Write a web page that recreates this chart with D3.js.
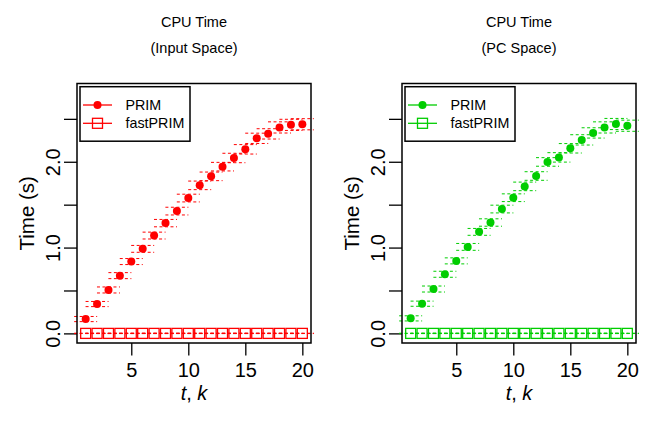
<!DOCTYPE html>
<html>
<head>
<meta charset="utf-8">
<script src="https://cdn.jsdelivr.net/npm/d3@7"></script>
<style>
  body { margin: 0; background: #fff; }
  svg { font-family: "Liberation Sans", Arial, sans-serif; }
</style>
</head>
<body>
<div id="chart"></div>
<script>
const width = 664;
const height = 421;

// t, k values
const steps = d3.range(1, 21);
const yTicks = [0, 0.5, 1.0, 1.5, 2.0, 2.5];
const yLabels = ["0.0", "", "1.0", "", "2.0", ""];
const xTicks = [5, 10, 15, 20];

// Input space
const primInput = [0.167, 0.342, 0.506, 0.673, 0.837, 0.985, 1.14, 1.285, 1.425, 1.577,
                   1.725, 1.83, 1.943, 2.044, 2.145, 2.273, 2.325, 2.40, 2.43, 2.437];
const primInputErr = [0.03, 0.03, 0.035, 0.035, 0.035, 0.04, 0.04, 0.043, 0.045, 0.045,
                      0.05, 0.05, 0.05, 0.055, 0.055, 0.06, 0.06, 0.065, 0.065, 0.065];
const fastInput = [0, 0, 0, 0, 0, 0, 0, 0, 0, 0, 0, 0, 0, 0, 0, 0, 0, 0, 0, 0];

// PC space
const primPC = [0.175, 0.346, 0.517, 0.689, 0.845, 1.008, 1.183, 1.292, 1.449, 1.581,
                1.713, 1.834, 1.998, 2.051, 2.157, 2.255, 2.336, 2.40, 2.44, 2.42];
const primPCErr = [0.03, 0.03, 0.035, 0.035, 0.035, 0.04, 0.04, 0.043, 0.045, 0.045,
                   0.05, 0.05, 0.05, 0.055, 0.055, 0.06, 0.06, 0.065, 0.065, 0.065];
const fastPC = [0, 0, 0, 0, 0, 0, 0, 0, 0, 0, 0, 0, 0, 0, 0, 0, 0, 0, 0, 0];

const svg = d3.select("#chart")
    .append("svg")
    .attr("width", width)
    .attr("height", height);

// R style 4% range expansion
function expand(lo, hi) {
    const p = (hi - lo) * 0.04;
    return [lo - p, hi + p];
}

function drawPanel(left, subtitle, color, prim, err, fast) {
    const box = { x0: left, x1: left + 234, y0: 83.5, y1: 343 };
    const x = d3.scaleLinear().domain(expand(1, 20)).range([box.x0, box.x1]);
    const y = d3.scaleLinear().domain(expand(0, 2.8)).range([box.y1, box.y0]);
    const cx = (box.x0 + box.x1) / 2;
    const g = svg.append("g");

    // titles
    g.append("text").attr("x", cx).attr("y", 27.3)
        .attr("text-anchor", "middle").style("font-size", "14.5px").text("CPU Time");
    g.append("text").attr("x", cx).attr("y", 52.8)
        .attr("text-anchor", "middle").style("font-size", "14.5px").text(subtitle);

    // x axis
    const xAxis = g.append("g").attr("transform", `translate(0,${box.y1})`)
        .call(d3.axisBottom(x).tickValues(xTicks).tickSize(12.5).tickPadding(6).tickFormat(d3.format("d")));
    xAxis.select(".domain").remove();
    xAxis.selectAll("line").attr("stroke", "#000").attr("stroke-width", 1.3);
    xAxis.selectAll("text").style("font-size", "20px").style("font-family", "Liberation Sans, Arial, sans-serif")
        .attr("dy", "0.75em");

    // y axis
    const yAxis = g.append("g").attr("transform", `translate(${box.x0},0)`)
        .call(d3.axisLeft(y).tickValues(yTicks).tickSize(13).tickFormat((d, i) => yLabels[i]));
    yAxis.select(".domain").remove();
    yAxis.selectAll("line").attr("stroke", "#000").attr("stroke-width", 1.3);
    yAxis.selectAll("text")
        .style("font-size", "20px").style("font-family", "Liberation Sans, Arial, sans-serif")
        .attr("text-anchor", "middle")
        .attr("x", null).attr("dy", null)
        .attr("transform", "translate(-17.5,0) rotate(-90)");

    // axis titles
    const xl = g.append("text").attr("x", cx).attr("y", 399.5)
        .attr("text-anchor", "middle").style("font-size", "20px");
    xl.append("tspan").style("font-style", "italic").text("t");
    xl.append("tspan").text(", ");
    xl.append("tspan").style("font-style", "italic").text("k");

    g.append("text")
        .attr("transform", `translate(${box.x0 - 43},${(box.y0 + box.y1) / 2}) rotate(-90)`)
        .attr("text-anchor", "middle").style("font-size", "20.5px").text("Time (s)");

    // dashed error caps
    const capHalf = 11.5;
    const caps = [];
    steps.forEach((t, i) => {
        caps.push({ t: t, v: prim[i] + err[i] });
        caps.push({ t: t, v: prim[i] - err[i] });
        caps.push({ t: t, v: fast[i] + 0.002 });
        caps.push({ t: t, v: fast[i] - 0.002 });
    });
    g.append("g").selectAll("line").data(caps).enter().append("line")
        .attr("x1", d => x(d.t) - capHalf).attr("x2", d => x(d.t) + capHalf)
        .attr("y1", d => y(d.v)).attr("y2", d => y(d.v))
        .attr("stroke", color).attr("stroke-width", 1)
        .attr("stroke-dasharray", "3,2.5");

    // PRIM points
    g.append("g").selectAll("circle").data(prim).enter().append("circle")
        .attr("cx", (d, i) => x(steps[i])).attr("cy", d => y(d))
        .attr("r", 4).attr("fill", color);

    // fastPRIM squares
    g.append("g").selectAll("rect").data(fast).enter().append("rect")
        .attr("x", (d, i) => x(steps[i]) - 5).attr("y", d => y(d) - 5)
        .attr("width", 10).attr("height", 10)
        .attr("fill", "none").attr("stroke", color).attr("stroke-width", 1.3);

    // plot box
    g.append("rect")
        .attr("x", box.x0).attr("y", box.y0)
        .attr("width", box.x1 - box.x0).attr("height", box.y1 - box.y0)
        .attr("fill", "none").attr("stroke", "#000").attr("stroke-width", 1.5);

    // legend
    const lg = g.append("g").attr("transform", `translate(${box.x0 + 3},${box.y0 + 3.2})`);
    lg.append("rect").attr("width", 110).attr("height", 54.5)
        .attr("fill", "#fff").attr("stroke", "#000").attr("stroke-width", 1.5);
    const entries = ["PRIM", "fastPRIM"];
    entries.forEach((name, i) => {
        const ly = 18.3 + i * 18.3;
        lg.append("line").attr("x1", 3).attr("x2", 32).attr("y1", ly).attr("y2", ly)
            .attr("stroke", color).attr("stroke-width", 1.3);
        if (i === 0) {
            lg.append("circle").attr("cx", 17.5).attr("cy", ly).attr("r", 4).attr("fill", color);
        } else {
            lg.append("rect").attr("x", 12.5).attr("y", ly - 5).attr("width", 10).attr("height", 10)
                .attr("fill", "none").attr("stroke", color).attr("stroke-width", 1.3);
        }
        lg.append("text").attr("x", 45.5).attr("y", ly + 5)
            .style("font-size", "14.3px").text(name);
    });
}

drawPanel(77, "(Input Space)", "#FF0000", primInput, primInputErr, fastInput);
drawPanel(402, "(PC Space)", "#00CD00", primPC, primPCErr, fastPC);
</script>
</body>
</html>
